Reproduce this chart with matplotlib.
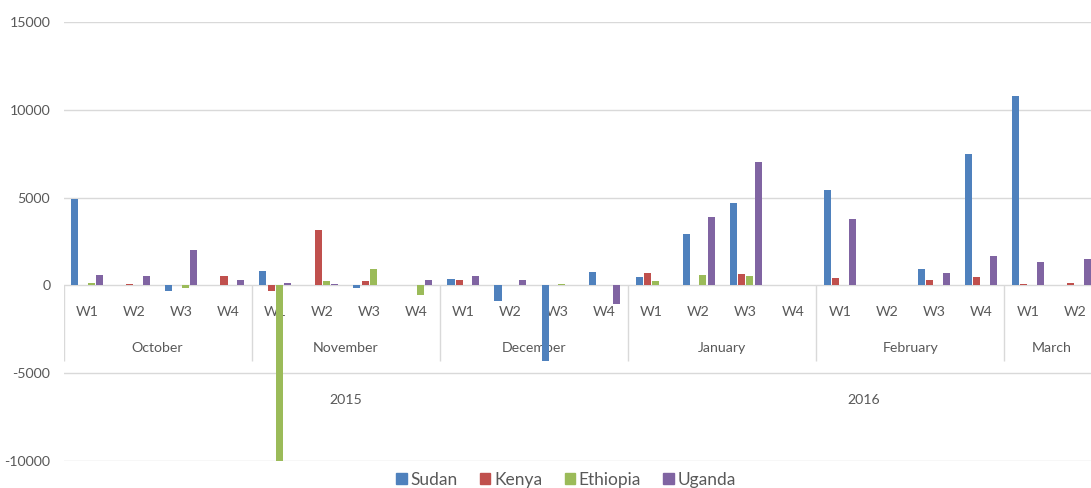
import numpy as np
import matplotlib
matplotlib.use("Agg")
import matplotlib.pyplot as plt
from matplotlib.patches import Patch

plt.rcParams['font.family'] = ['Lato', 'DejaVu Sans']
plt.rcParams['axes.unicode_minus'] = False

# categories (three level axis: week / month / year)
weeks = ["W1", "W2", "W3", "W4"] * 5 + ["W1", "W2"]
months = ["October"] * 4 + ["November"] * 4 + ["December"] * 4 + \
         ["January"] * 4 + ["February"] * 4 + ["March"] * 2
years = ["2015"] * 12 + ["2016"] * 10

# series values
sudan = [4900, 0, -340, 0, 800, 0, -150, 0, 340, -915, -4300, 740,
         470, 2930, 4715, 0, 5450, 0, 945, 7480, 10760, 0]
kenya = [40, 60, 0, 510, -310, 3160, 245, 0, 285, 0, 0, 0,
         715, 0, 640, 0, 415, 0, 300, 455, 75, 130]
ethiopia = [130, 20, -150, 20, -10000, 230, 950, -570, 20, 0, 60, 0,
            245, 585, 545, 0, 0, 0, 20, 0, 0, 20]
uganda = [610, 550, 2000, 290, 130, 70, 0, 285, 550, 325, 0, -1085,
          0, 3900, 7020, 0, 3800, 0, 715, 1650, 1310, 1480]

series = ["Sudan", "Kenya", "Ethiopia", "Uganda"]
colors = ["#4F81BD", "#C0504D", "#9BBB59", "#8064A2"]
text_col = "#595959"
grid_col = "#D9D9D9"
fs = 10.2

fig = plt.figure(figsize=(10.91, 4.88), dpi=100)
ax = fig.add_axes([63.5 / 1091, 27 / 488, 1 - 63.5 / 1091, 439 / 488])

x = np.arange(len(weeks))
step = 0.176
width = 0.15
for i, (name, vals) in enumerate(zip(series, [sudan, kenya, ethiopia, uganda])):
    ax.bar(x + (i - 1.5) * step, vals, width, color=colors[i], zorder=3, label=name)

ax.set_xlim(-0.5, 21.34)
ax.set_ylim(-10000, 15000)
ax.set_yticks(np.arange(-10000, 15001, 5000))
ax.yaxis.grid(True, color=grid_col, linewidth=1.0, zorder=0)
ax.set_xticks([])
ax.tick_params(axis='y', length=0, pad=9.5, labelsize=fs, labelcolor=text_col)
for s in ax.spines.values():
    s.set_visible(False)

# category labels hanging under the zero line
for i, w in enumerate(weeks):
    ax.text(i, -1540, w, ha='center', va='center', fontsize=fs, color=text_col, zorder=2)

def spans(labels):
    out = []
    start = 0
    for i in range(1, len(labels) + 1):
        if i == len(labels) or labels[i] != labels[start]:
            out.append((labels[start], start, i - 1))
            start = i
    return out

for name, a, b in spans(months):
    ax.text((a + b) / 2, -3590, name, ha='center', va='center', fontsize=fs, color=text_col, zorder=2)
    ax.vlines(a - 0.5, -4330, 0, color=grid_col, linewidth=1.0, zorder=1)

for name, a, b in spans(years):
    ax.text((a + b) / 2, -6550, name, ha='center', va='center', fontsize=fs, color=text_col, zorder=2)

handles = [Patch(color=c, label=n) for n, c in zip(series, colors)]
leg = fig.legend(handles=handles, loc='center', bbox_to_anchor=(566 / 1091, 1 - 480 / 488),
                 ncol=4, frameon=False, fontsize=12.5, handlelength=0.6, handleheight=0.6,
                 handletextpad=0.2, columnspacing=1.3, borderpad=0)
for t in leg.get_texts():
    t.set_color(text_col)

fig.savefig("out.png", dpi=100)
